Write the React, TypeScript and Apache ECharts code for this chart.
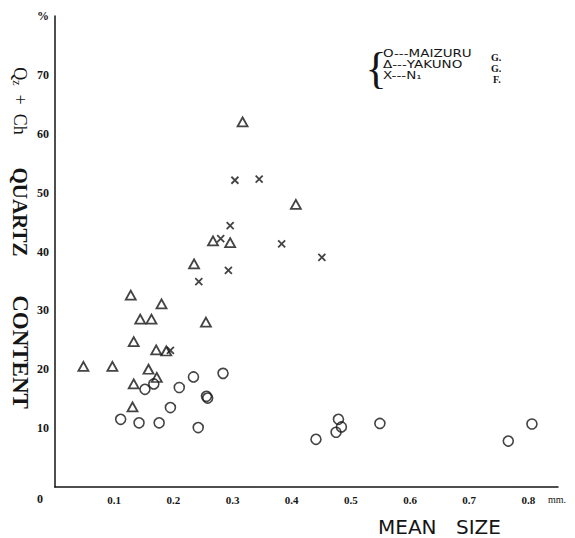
import React, { useEffect, useRef } from "react";
import * as echarts from "echarts";

// MAIZURU G. (circles): [mean size mm, quartz content %]
const maizuru: number[][] = [
  [0.111, 11.5], [0.142, 10.9], [0.176, 10.9], [0.152, 16.6], [0.167, 17.5],
  [0.21, 16.9], [0.234, 18.7], [0.284, 19.3], [0.256, 15.4], [0.258, 15.1],
  [0.195, 13.5], [0.242, 10.1], [0.441, 8.1], [0.479, 11.5], [0.484, 10.2],
  [0.475, 9.3], [0.549, 10.8], [0.766, 7.8], [0.806, 10.7],
];
// YAKUNO G. (triangles)
const yakuno: number[][] = [
  [0.048, 20.5], [0.097, 20.5], [0.128, 32.6], [0.18, 31.1], [0.144, 28.5],
  [0.163, 28.5], [0.133, 24.7], [0.171, 23.3], [0.188, 23.1], [0.158, 20.0],
  [0.172, 18.6], [0.133, 17.5], [0.131, 13.6], [0.317, 62.0], [0.407, 48.0],
  [0.267, 41.8], [0.296, 41.5], [0.235, 37.9], [0.255, 28.0],
];
// N1 F. (crosses)
const n1: number[][] = [
  [0.195, 23.2], [0.304, 52.1], [0.345, 52.3], [0.296, 44.4], [0.28, 42.2],
  [0.383, 41.3], [0.451, 39.0], [0.293, 36.8], [0.243, 34.9],
];
const xTicks = [0.1, 0.2, 0.3, 0.4, 0.5, 0.6, 0.7, 0.8];
const yTicks = [10, 20, 30, 40, 50, 60, 70];

const INK = "#151515";
const SERIF = "'Liberation Serif', 'DejaVu Serif', serif";
const SANS = "'DejaVu Sans', 'Liberation Sans', sans-serif";

function txt(x: number, y: number, text: string, font: string, extra: any = {}) {
  return {
    type: "text",
    x,
    y,
    rotation: extra.rotation || 0,
    scaleX: extra.scaleX || 1,
    style: {
      text,
      font,
      fill: INK,
      textAlign: extra.align || "center",
      align: extra.align || "center",
      textVerticalAlign: "middle",
      verticalAlign: "middle",
      rich: extra.rich,
    },
  };
}

export default function App() {
  const ref = useRef<HTMLDivElement>(null);
  useEffect(() => {
    if (!ref.current) return;
    const chart = echarts.init(ref.current, null, { renderer: "svg" });
    const xSet = new Set(xTicks.map((v) => v.toFixed(1)));
    const ySet = new Set(yTicks.map((v) => String(v)));
    chart.setOption({
      animation: false,
      backgroundColor: "#ffffff",
      grid: { left: 55, right: 17, top: 16, bottom: 51, containLabel: false },
      xAxis: {
        type: "value",
        min: 0,
        max: 0.85,
        interval: 0.1,
        axisLine: { show: true, lineStyle: { color: INK, width: 1.5 } },
        axisTick: { show: false },
        splitLine: { show: false },
        axisLabel: {
          margin: 7,
          fontFamily: SERIF,
          fontWeight: "bold",
          fontSize: 11,
          color: INK,
          showMaxLabel: false,
          formatter: (v: number) => (xSet.has(v.toFixed(1)) && v > 0.05 ? v.toFixed(1) : ""),
        },
      },
      yAxis: {
        type: "value",
        min: 0,
        max: 80,
        interval: 10,
        axisLine: { show: true, lineStyle: { color: INK, width: 1.5 } },
        axisTick: { show: false },
        splitLine: { show: false },
        axisLabel: {
          margin: 6,
          fontFamily: SERIF,
          fontWeight: "bold",
          fontSize: 12,
          color: INK,
          formatter: (v: number) => (v === 80 ? "%" : ySet.has(String(v)) ? String(v) : ""),
        },
      },
      series: [
        {
          name: "MAIZURU G.",
          type: "scatter",
          data: maizuru,
          symbol: "circle",
          symbolSize: 10,
          itemStyle: { color: "rgba(255,255,255,0)", borderColor: INK, borderWidth: 1.6 },
        },
        {
          name: "YAKUNO G.",
          type: "scatter",
          data: yakuno,
          symbol: "triangle",
          symbolSize: [10, 9],
          itemStyle: { color: "rgba(255,255,255,0)", borderColor: INK, borderWidth: 1.8 },
        },
        {
          name: "N1 F.",
          type: "scatter",
          data: n1,
          symbol: "path://M0,0L10,10M10,0L0,10",
          symbolSize: 7,
          itemStyle: { color: "rgba(255,255,255,0)", borderColor: INK, borderWidth: 1.8 },
        },
      ],
      graphic: [
        txt(40, 499, "0", `bold 12px ${SERIF}`),
        txt(557, 499, "mm.", `10px ${SERIF}`),
        txt(378, 527, "MEAN", `20px ${SANS}`, { align: "left" }),
        txt(456, 527, "SIZE", `20px ${SANS}`, { align: "left" }),
        txt(20, 101, "Q{s|z}  +  Ch", `18px ${SERIF}`, {
          rotation: -Math.PI / 2,
          rich: { s: { font: `12px ${SERIF}`, fill: INK, padding: [7, 0, 0, 0] } },
        }),
        txt(20, 212, "QUARTZ", `bold 21px ${SERIF}`, { rotation: -Math.PI / 2 }),
        txt(20, 352, "CONTENT", `bold 23px ${SERIF}`, { rotation: -Math.PI / 2 }),
        txt(376, 68, "{", `44px ${SERIF}`),
        txt(383, 54, "O---MAIZURU", `10px ${SANS}`, { align: "left", scaleX: 1.35 }),
        txt(383, 65, "Δ---YAKUNO", `10px ${SANS}`, { align: "left", scaleX: 1.35 }),
        txt(383, 76, "X---N₁", `10px ${SANS}`, { align: "left", scaleX: 1.35 }),
        txt(491, 57, "G.", `bold 10px ${SERIF}`, { align: "left" }),
        txt(491, 68, "G.", `bold 10px ${SERIF}`, { align: "left" }),
        txt(493, 79, "F.", `bold 10px ${SERIF}`, { align: "left" }),
      ],
    });
    return () => chart.dispose();
  }, []);
  return (
    <div
      ref={ref}
      style={{ position: "fixed", left: 0, top: 0, width: 575, height: 538, background: "#fff" }}
    />
  );
}
